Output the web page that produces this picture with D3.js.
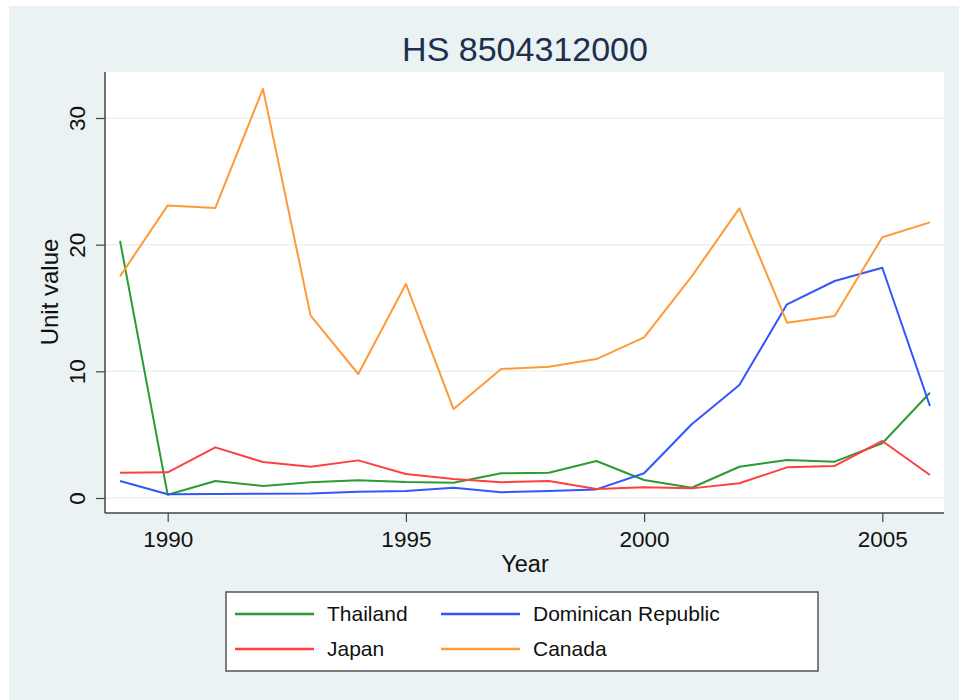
<!DOCTYPE html>
<html>
<head>
<meta charset="utf-8">
<script src="https://cdn.jsdelivr.net/npm/d3@7"></script>
<style>
  body { margin: 0; background: #fff; }
  svg { display: block; }
  text { font-family: "Liberation Sans", Arial, sans-serif; }
</style>
</head>
<body>
<svg class="main"></svg>
<script>
let years = d3.range(1989, 2007);
let xTicks = [1990, 1995, 2000, 2005];
let yTicks = [0, 10, 20, 30];

let thailand = [20.3, 0.25, 1.34, 0.95, 1.24, 1.4, 1.26, 1.21, 1.95, 2.0, 2.92, 1.42, 0.81, 2.47, 3.0, 2.87, 4.32, 8.31];
let dominican = [1.34, 0.29, 0.32, 0.34, 0.36, 0.5, 0.55, 0.81, 0.45, 0.55, 0.68, 1.95, 5.82, 8.92, 15.29, 17.13, 18.18, 7.26];
let japan = [2.0, 2.03, 4.0, 2.84, 2.47, 2.97, 1.89, 1.5, 1.24, 1.34, 0.71, 0.84, 0.76, 1.16, 2.42, 2.53, 4.5, 1.82];
let canada = [17.5, 23.1, 22.9, 32.3, 14.4, 9.79, 16.9, 7.02, 10.18, 10.37, 10.97, 12.68, 17.5, 22.86, 13.84, 14.36, 20.58, 21.76];

let seriesNames = ['Thailand', 'Dominican Republic', 'Japan', 'Canada'];
let seriesColors = ['#2a9b35', '#3355ff', '#ff4040', '#ff9a38'];
let seriesValues = [thailand, dominican, japan, canada];

let w = 959, h = 700;
let plot = {left: 105, right: 944, top: 72, bottom: 513};

let svg = d3.select('.main')
  .attr('width', w)
  .attr('height', h)

// outer graph region
svg.append('rect')
  .attr('x', 9).attr('y', 6)
  .attr('width', w - 9).attr('height', h - 6)
  .attr('fill', '#eaf2f3')

svg.append('rect')
  .attr('x', plot.left).attr('y', plot.top)
  .attr('width', plot.right - plot.left).attr('height', plot.bottom - plot.top)
  .attr('fill', '#fff')

let x = d3.scaleLinear()
  .domain([1990, 2005])
  .range([167.7, 882.3])

let y = d3.scaleLinear()
  .domain([0, 30])
  .range([498, 118])

// gridlines
svg.append('g')
  .selectAll('line')
  .data(yTicks)
  .enter()
  .append('line')
  .attr('x1', plot.left).attr('x2', plot.right)
  .attr('y1', d => y(d)).attr('y2', d => y(d))
  .attr('stroke', '#eaf2f3')
  .attr('stroke-width', 1.5)

// axes
let xAxis = svg.append('g')
  .attr('transform', `translate(0,${plot.bottom})`)
  .call(d3.axisBottom(x).tickValues(xTicks).tickFormat(d3.format('d')).tickSize(9).tickPadding(0))
xAxis.select('.domain').attr('d', `M${plot.left},0H${plot.right}`)

let yAxis = svg.append('g')
  .attr('transform', `translate(${plot.left},0)`)
  .call(d3.axisLeft(y).tickValues(yTicks).tickSize(9).tickPadding(0))
yAxis.select('.domain').attr('d', `M0,${plot.top}V${plot.bottom}`)

svg.selectAll('.domain').attr('stroke', '#444').attr('stroke-width', 1.5)
svg.selectAll('.tick line').attr('stroke', '#444').attr('stroke-width', 1.2)

xAxis.selectAll('text')
  .attr('font-size', 22.5)
  .attr('fill', '#111')
  .attr('y', 33.5)
  .attr('dy', 0)

yAxis.selectAll('text')
  .attr('font-size', 22.5)
  .attr('fill', '#111')
  .attr('text-anchor', 'middle')
  .attr('transform', 'translate(-20,0) rotate(-90)')
  .attr('x', 0)
  .attr('dy', 0)

// lines
let line = d3.line()
  .x((d, i) => x(years[i]))
  .y(d => y(d))

svg.append('g')
  .selectAll('path')
  .data(seriesValues)
  .enter()
  .append('path')
  .attr('d', d => line(d))
  .attr('fill', 'none')
  .attr('stroke', (d, i) => seriesColors[i])
  .attr('stroke-width', 2)
  .attr('stroke-linejoin', 'round')

// titles
svg.append('text')
  .attr('x', 525).attr('y', 61)
  .attr('text-anchor', 'middle')
  .attr('font-size', 34)
  .attr('fill', '#1e2f4d')
  .text('HS 8504312000')

svg.append('text')
  .attr('x', 525).attr('y', 572)
  .attr('text-anchor', 'middle')
  .attr('font-size', 23.5)
  .attr('fill', '#111')
  .text('Year')

svg.append('text')
  .attr('transform', `translate(58,292) rotate(-90)`)
  .attr('text-anchor', 'middle')
  .attr('font-size', 24)
  .attr('fill', '#111')
  .text('Unit value')

// legend
let legend = svg.append('g')
legend.append('rect')
  .attr('x', 226).attr('y', 592)
  .attr('width', 592).attr('height', 79)
  .attr('fill', '#fff')
  .attr('stroke', '#555')
  .attr('stroke-width', 1.5)

let legendItems = legend.selectAll('g.item')
  .data(seriesNames)
  .enter()
  .append('g')
  .attr('class', 'item')
  .attr('transform', (d, i) => `translate(${i % 2 === 0 ? 235 : 441},${i < 2 ? 614 : 649})`)

legendItems.append('line')
  .attr('x1', 0).attr('x2', 79)
  .attr('stroke', (d, i) => seriesColors[i])
  .attr('stroke-width', 2.5)

legendItems.append('text')
  .attr('x', 92)
  .attr('dy', '0.35em')
  .attr('font-size', 21)
  .attr('fill', '#111')
  .text(d => d)
</script>
</body>
</html>
